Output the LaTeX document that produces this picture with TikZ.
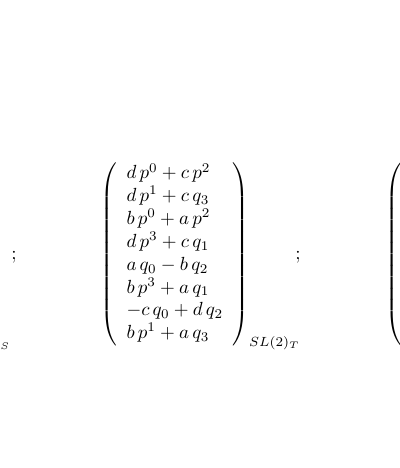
\documentclass[tikz,border=0pt]{standalone}
\usepackage{amsmath}
\usepackage{amssymb}
\usepackage{tikz}

\begin{document}
\begin{tikzpicture}[x=0.526pt,y=0.526pt,yscale=-1,xscale=1]
\useasboundingbox (0,0) rectangle (400,468);

% Text Node
\node (semiL) [anchor=base,inner sep=0pt] at (14,259) {$;$};
% Text Node
\node (subS) [anchor=base west,inner sep=0pt] at (0,349) {$\scriptscriptstyle S$};
% Text Node
\node (vecT) [anchor=base west,inner sep=0pt] at (100,259) {$\left(\begin{array}{l}
d\,p^0+c\,p^2\\
d\,p^1+c\,q_3\\
b\,p^0+a\,p^2\\
d\,p^3+c\,q_1\\
a\,q_0-b\,q_2\\
b\,p^3+a\,q_1\\
-c\,q_0+d\,q_2\\
b\,p^1+a\,q_3
\end{array}\right)_{SL(2)_T}$};
% Text Node
\node (semiR) [anchor=base,inner sep=0pt] at (298,259) {$;$};
% Text Node
\node (parR) [anchor=base west,inner sep=0pt] at (385,259) {$\left(\vphantom{\begin{array}{l}1\\1\\1\\1\\1\\1\\1\\1\end{array}}\right.$};

\end{tikzpicture}
\end{document}
